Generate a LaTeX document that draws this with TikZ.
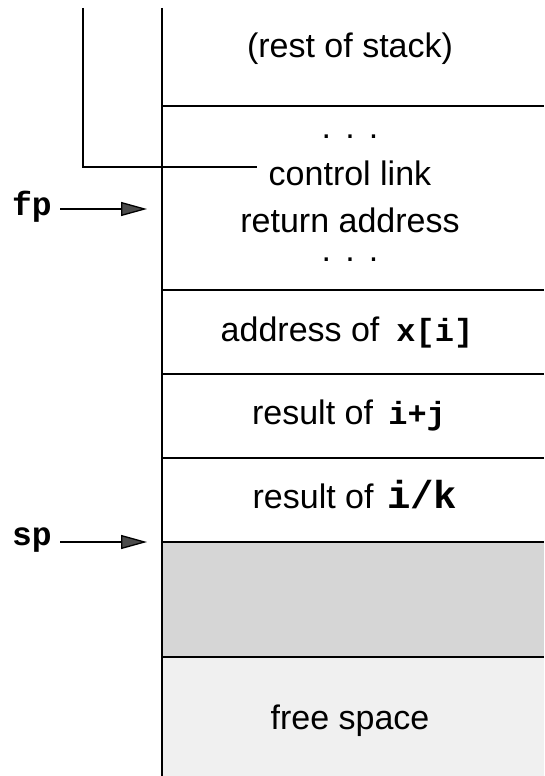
\documentclass[tikz,border=0pt]{standalone}
\usepackage{fontspec}
\setmainfont{Liberation Sans}
\setmonofont{Liberation Mono}
\usetikzlibrary{arrows.meta}
\begin{document}
\begin{tikzpicture}[x=1pt,y=1pt,
  lbl/.style={anchor=base, inner sep=0pt, font=\fontsize{34}{40}\selectfont},
  ptrlbl/.style={anchor=base, inner sep=0pt, font=\fontsize{33}{36}\selectfont\ttfamily\bfseries},
  heavy/.style={line width=2.6pt},
  light/.style={line width=1.4pt},
  ptr/.style={line width=1.3pt, -{Triangle[length=26pt,width=14pt,fill=black!70]}},
]
\useasboundingbox (0,0) rectangle (544,-776);
\newcommand{\cd}[1]{{\fontsize{32}{36}\selectfont\ttfamily\bfseries #1}}
% fills
\fill[black!16] (162,-542) rectangle (544,-657);
\fill[black!6] (162,-657) rectangle (544,-776);
% stack frame lines
\coordinate (stacktop) at (162,-8);
\coordinate (stackbot) at (162,-776);
\draw[line width=1.8pt] (stacktop) -- (stackbot);
\foreach \y/\s in {106/heavy,290/heavy,374/light,458/light,542/heavy,657/heavy}
  \draw[\s] (162,-\y) -- (544,-\y);
% cell texts
\node[lbl] (rest) at (350,-57) {(rest of stack)};
\node[lbl] (dots1) at (350,-138) {.\hspace{0.42em}.\hspace{0.42em}.};
\node[lbl] (cl) at (350,-185) {control link};
\node[lbl] (ra) at (350,-232) {return address};
\node[lbl] (dots2) at (350,-261) {.\hspace{0.42em}.\hspace{0.42em}.};
\node[lbl] (addr) at (347,-341) {address of\hspace{0.5em}\cd{x[i]}};
\node[lbl] (res1) at (349,-424) {result of\hspace{0.45em}\cd{i+j}};
\node[lbl] (res2) at (355,-508) {result of\hspace{0.4em}{\fontsize{39}{44}\selectfont\ttfamily\bfseries i/k}};
\node[lbl] (free) at (350,-729) {free space};
% control link
\coordinate (cltop) at (83,-8);
\coordinate (clend) at (257,-167);
\draw[line width=1.4pt] (cltop) |- (clend);
% pointers
\node[ptrlbl] (fp) at (32,-215) {fp};
\node[ptrlbl] (sp) at (32,-545) {sp};
\coordinate (fpend) at (147,-209);
\coordinate (spend) at (147,-542);
\draw[ptr] (60,-209) -- (fpend);
\draw[ptr] (60,-542) -- (spend);
\end{tikzpicture}
\end{document}
